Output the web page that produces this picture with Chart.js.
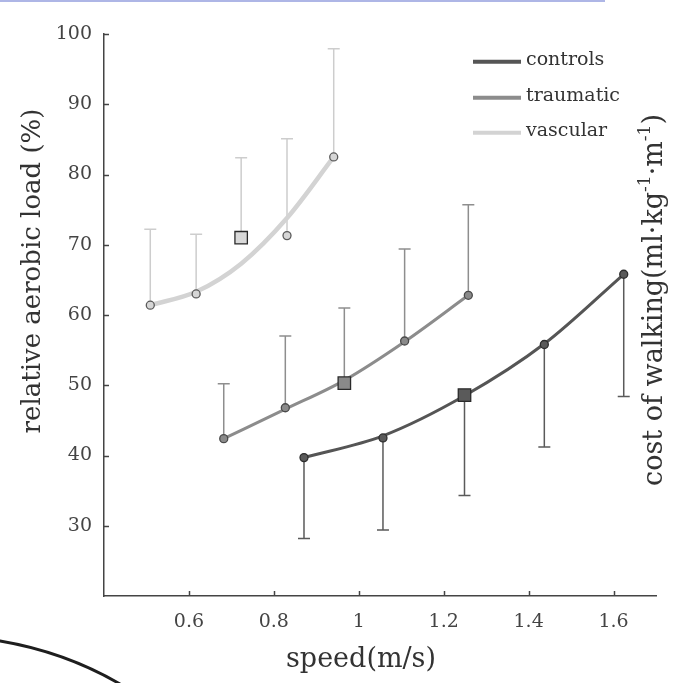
<!DOCTYPE html>
<html>
<head>
<meta charset="utf-8">
<script src="https://cdn.jsdelivr.net/npm/chart.js@4/dist/chart.umd.min.js"></script>
<style>
html,body{margin:0;padding:0;background:#fff;}
canvas{display:block;}
</style>
</head>
<body>
<canvas id="c" width="673" height="683"></canvas>
<script>
// ---- data ----
const groupNames = ['controls', 'traumatic', 'vascular'];
const xTicks = [0.6, 0.8, 1, 1.2, 1.4, 1.6];
const yTicks = [30, 40, 50, 60, 70, 80, 90, 100];

// group means (markers), standard deviations (error bars) and fitted curve
const speedControls = [0.871, 1.057, 1.249, 1.437, 1.624];
const loadControls  = [39.7, 42.5, 48.6, 55.8, 65.8];
const sdControls    = [11.5, 13.1, 14.3, 14.6, 17.4];
const fitControls   = [39.7, 42.8, 48.5, 55.9, 65.8];

const speedTraumatic = [0.682, 0.827, 0.966, 1.108, 1.258];
const loadTraumatic  = [42.4, 46.8, 50.3, 56.3, 62.8];
const sdTraumatic    = [7.8, 10.2, 10.7, 13.1, 12.9];
const fitTraumatic   = [42.4, 46.6, 50.7, 56.2, 62.8];

const speedVascular = [0.509, 0.617, 0.723, 0.831, 0.941];
const loadVascular  = [61.4, 63.0, 71.0, 71.3, 82.5];
const sdVascular    = [10.8, 8.5, 11.4, 13.8, 15.4];
const fitVascular   = [61.4, 63.3, 67.3, 73.8, 82.5];

// ---- styling ----
const FONT = "'DejaVu Serif', 'Liberation Serif', serif";
const styles = {
  controls:  {line: '#555555', fill: '#5a5a5a', edge: '#2e2e2e', err: '#5a5a5a', width: 3, dir: -1},
  traumatic: {line: '#8c8c8c', fill: '#8a8a8a', edge: '#4a4a4a', err: '#8e8e8e', width: 3, dir: 1},
  vascular:  {line: '#d3d3d3', fill: '#d6d6d6', edge: '#5a5a5a', err: '#cdcdcd', width: 4.5, dir: 1}
};

function pts(xs, ys) { return xs.map((x, i) => ({x: x, y: ys[i]})); }

const groups = [
  {name: groupNames[0], speed: speedControls, load: loadControls, sd: sdControls, fit: fitControls},
  {name: groupNames[1], speed: speedTraumatic, load: loadTraumatic, sd: sdTraumatic, fit: fitTraumatic},
  {name: groupNames[2], speed: speedVascular, load: loadVascular, sd: sdVascular, fit: fitVascular}
];

const datasets = [];
groups.forEach(g => {
  const s = styles[g.name];
  datasets.push({
    label: g.name + ' mean',
    data: pts(g.speed, g.load),
    showLine: false,
    order: 0,
    sd: g.sd,
    errDir: s.dir,
    errColor: s.err,
    pointStyle: c => (c.dataIndex === 2 ? 'rect' : 'circle'),
    pointRadius: c => (c.dataIndex === 2 ? 8.8 : 4),
    pointBackgroundColor: c => (c.dataIndex === 2 && g.name === 'vascular' ? '#d9d9d9' : s.fill),
    pointBorderColor: c => (c.dataIndex === 2 ? '#2a2a2a' : s.edge),
    pointBorderWidth: 1.3,
    isMarkers: true
  });
});
groups.forEach(g => {
  const s = styles[g.name];
  datasets.push({
    label: g.name,
    data: pts(g.speed, g.fit),
    showLine: true,
    order: 1,
    borderColor: s.line,
    borderWidth: s.width,
    borderCapStyle: 'round',
    pointRadius: 0,
    cubicInterpolationMode: 'monotone',
    isCurve: true
  });
});

const decor = {
  id: 'decor',
  beforeDatasetsDraw(chart) {
    const ctx = chart.ctx, xs = chart.scales.x, ys = chart.scales.y;
    ctx.save();
    chart.data.datasets.forEach(ds => {
      if (!ds.isMarkers) return;
      ctx.strokeStyle = ds.errColor;
      ctx.lineWidth = 1.5;
      ds.data.forEach((p, i) => {
        const px = xs.getPixelForValue(p.x);
        const py = ys.getPixelForValue(p.y);
        const pe = ys.getPixelForValue(p.y + ds.errDir * ds.sd[i]);
        ctx.beginPath();
        ctx.moveTo(px, py); ctx.lineTo(px, pe);
        ctx.moveTo(px - 6, pe); ctx.lineTo(px + 6, pe);
        ctx.stroke();
      });
    });
    ctx.restore();
  },
  afterDraw(chart) {
    const ctx = chart.ctx, xs = chart.scales.x, ys = chart.scales.y;
    const a = chart.chartArea;
    ctx.save();
    // inward tick marks
    ctx.strokeStyle = '#444'; ctx.lineWidth = 1.5;
    xTicks.forEach(v => {
      const px = Math.round(xs.getPixelForValue(v)) + 0.5;
      ctx.beginPath(); ctx.moveTo(px, a.bottom); ctx.lineTo(px, a.bottom - 5); ctx.stroke();
    });
    yTicks.forEach(v => {
      const py = Math.round(ys.getPixelForValue(v)) + 0.5;
      ctx.beginPath(); ctx.moveTo(a.left, py); ctx.lineTo(a.left + 5, py); ctx.stroke();
    });

    // legend
    const legY = [61.7, 97.7, 132.7];
    groupNames.forEach((n, i) => {
      ctx.strokeStyle = styles[n].line; ctx.lineWidth = 4; ctx.lineCap = 'butt';
      ctx.beginPath(); ctx.moveTo(473, legY[i]); ctx.lineTo(521, legY[i]); ctx.stroke();
      ctx.fillStyle = '#333'; ctx.font = '19px ' + FONT;
      ctx.textAlign = 'left'; ctx.textBaseline = 'alphabetic';
      ctx.fillText(n, 526, legY[i] + 3.5);
    });

    // axis titles
    ctx.fillStyle = '#333';
    ctx.textAlign = 'center'; ctx.textBaseline = 'alphabetic';
    ctx.font = '27px ' + FONT;
    ctx.fillText('speed(m/s)', 361, 667);

    ctx.save();
    ctx.translate(40, 271); ctx.rotate(-Math.PI / 2);
    ctx.font = '26px ' + FONT;
    ctx.fillText('relative aerobic load (%)', 0, 0);
    ctx.restore();

    // right title with superscripts
    ctx.save();
    ctx.translate(662, 300); ctx.rotate(-Math.PI / 2);
    const segs = [
      {t: 'cost of walking(ml·kg', s: false}, {t: '-1', s: true},
      {t: '·m', s: false}, {t: '-1', s: true}, {t: ')', s: false}
    ];
    const big = '27px ' + FONT, small = '17px ' + FONT;
    let total = 0;
    segs.forEach(sg => { ctx.font = sg.s ? small : big; sg.w = ctx.measureText(sg.t).width; total += sg.w; });
    let cx = -total / 2;
    ctx.textAlign = 'left';
    segs.forEach(sg => {
      ctx.font = sg.s ? small : big;
      ctx.fillText(sg.t, cx, sg.s ? -12 : 0);
      cx += sg.w;
    });
    ctx.restore();

    // page artifacts: top rule and bottom-left stroke
    ctx.strokeStyle = '#aeb6e6'; ctx.lineWidth = 2;
    ctx.beginPath(); ctx.moveTo(0, 1); ctx.lineTo(605, 1); ctx.stroke();
    ctx.strokeStyle = '#1e1e1e'; ctx.lineWidth = 3; ctx.lineCap = 'round';
    ctx.beginPath(); ctx.moveTo(0, 641); ctx.quadraticCurveTo(65, 652, 120, 684); ctx.stroke();
    ctx.restore();
  }
};

new Chart(document.getElementById('c'), {
  type: 'scatter',
  data: {datasets: datasets},
  options: {
    responsive: false,
    animation: false,
    layout: {padding: {left: 44, top: 34, right: 17, bottom: 0}},
    plugins: {legend: {display: false}, tooltip: {enabled: false}},
    scales: {
      x: {
        type: 'linear', min: 0.4, max: 1.7,
        afterBuildTicks: s => { s.ticks = xTicks.map(v => ({value: v})); },
        afterFit: s => { s.height = 87; },
        grid: {display: false, drawTicks: false},
        border: {display: true, color: '#444', width: 1.5},
        ticks: {font: {family: FONT, size: 19}, color: '#444', padding: 15, callback: v => String(v)}
      },
      y: {
        type: 'linear', min: 20, max: 100,
        afterBuildTicks: s => { s.ticks = yTicks.map(v => ({value: v})); },
        afterFit: s => { s.width = 60; },
        grid: {display: false, drawTicks: false},
        border: {display: true, color: '#444', width: 1.5},
        ticks: {font: {family: FONT, size: 19}, color: '#444', padding: 12, callback: v => String(v)}
      }
    }
  },
  plugins: [decor]
});
</script>
</body>
</html>
